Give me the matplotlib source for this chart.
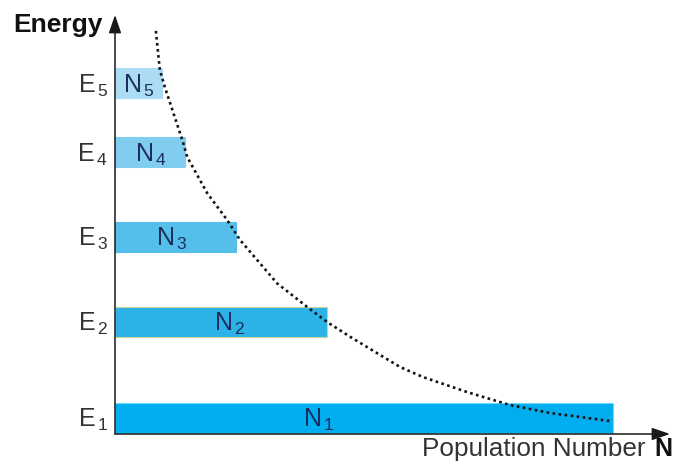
import matplotlib
matplotlib.use("Agg")
import matplotlib.pyplot as plt

plt.rcParams['font.family'] = ['Liberation Sans', 'DejaVu Sans']
plt.rcParams['mathtext.fontset'] = 'custom'
plt.rcParams['mathtext.rm'] = 'Liberation Sans'
plt.rcParams['mathtext.it'] = 'Liberation Sans'
plt.rcParams['mathtext.bf'] = 'Liberation Sans:bold'

# ---- data ----
levels = ['1', '2', '3', '4', '5']
energies = [0.38, 2.67, 4.71, 6.72, 8.37]
populations = [100.0, 42.6, 24.3, 14.1, 9.4]

curve_n = [8.2, 9.0, 10.0, 13.5, 14.5, 18.5, 22.5, 25.1, 32.5, 38.6, 42.6,
           47.2, 52.6, 57.2, 61.8, 70.7, 79.3, 87.4, 99.4]
curve_e = [9.62, 8.69, 8.28, 7.02, 6.61, 5.75, 5.11, 4.63, 3.60, 3.03, 2.67,
           2.32, 1.93, 1.60, 1.36, 1.00, 0.69, 0.50, 0.31]

# ---- style / layout ----
bar_colors = ['#00aeef', '#2bb3e8', '#55bfec', '#80cdef', '#abdcf3']
bar_edges = ['#6fd8f8', '#c8d49c', '#55bfec', '#80cdef', '#abdcf3']
label_frac = [0.41, 0.54, 0.47, 0.51, 0.51]
bar_h = 0.716

W, H = 673, 470
fig = plt.figure(figsize=(W / 100, H / 100), dpi=100)
ax = fig.add_axes([115 / W, 36 / H, 555 / W, 419 / H])
ax.set_xlim(0, 111.4)
ax.set_ylim(0, 10)
for s in ax.spines.values():
    s.set_visible(False)
ax.set_xticks([])
ax.set_yticks([])

ax.barh(energies, populations, height=bar_h, left=0, color=bar_colors,
        edgecolor=bar_edges, linewidth=0.8, zorder=2)

ax.plot(curve_n, curve_e, color='#111111', lw=1.9, ls=(0, (1, 1.3)),
        zorder=3, solid_capstyle='butt', dash_capstyle='butt')

for lv, e, n, f in zip(levels, energies, populations, label_frac):
    ax.annotate(r'$\mathrm{N}_{\,%s}$' % lv, xy=(n * f, e), xytext=(0, -6.5),
                textcoords='offset points', ha='center', va='baseline',
                fontsize=18, color='#1c2f5c', zorder=4)
    ax.annotate(r'$\mathrm{E}_{\,%s}$' % lv, xy=(0, e), xytext=(-5, -6.5),
                textcoords='offset points', ha='right', va='baseline',
                fontsize=18, color='#333333', zorder=4)

arrow = dict(arrowstyle='-|>,head_length=1.1,head_width=0.38', color='#1a1a1a',
             lw=1.1, shrinkA=0, shrinkB=0)
ax.annotate('', xy=(0, 1), xytext=(0, 0), xycoords='axes fraction',
            arrowprops=arrow, zorder=5)
ax.annotate('', xy=(1, 0), xytext=(0, 0), xycoords='axes fraction',
            arrowprops=arrow, zorder=5)

fig.text(13 / W, 1 - 32 / H, 'Energy', ha='left', va='baseline',
         fontsize=19, fontweight='bold', color='#111111')
fig.text(672 / W, 1 - 456 / H, 'N', ha='right', va='baseline',
         fontsize=18, fontweight='bold', color='#111111')
fig.text(646 / W, 1 - 456 / H, 'Population Number', ha='right', va='baseline',
         fontsize=18.8, color='#333333')

fig.savefig('out.png', dpi=100)
